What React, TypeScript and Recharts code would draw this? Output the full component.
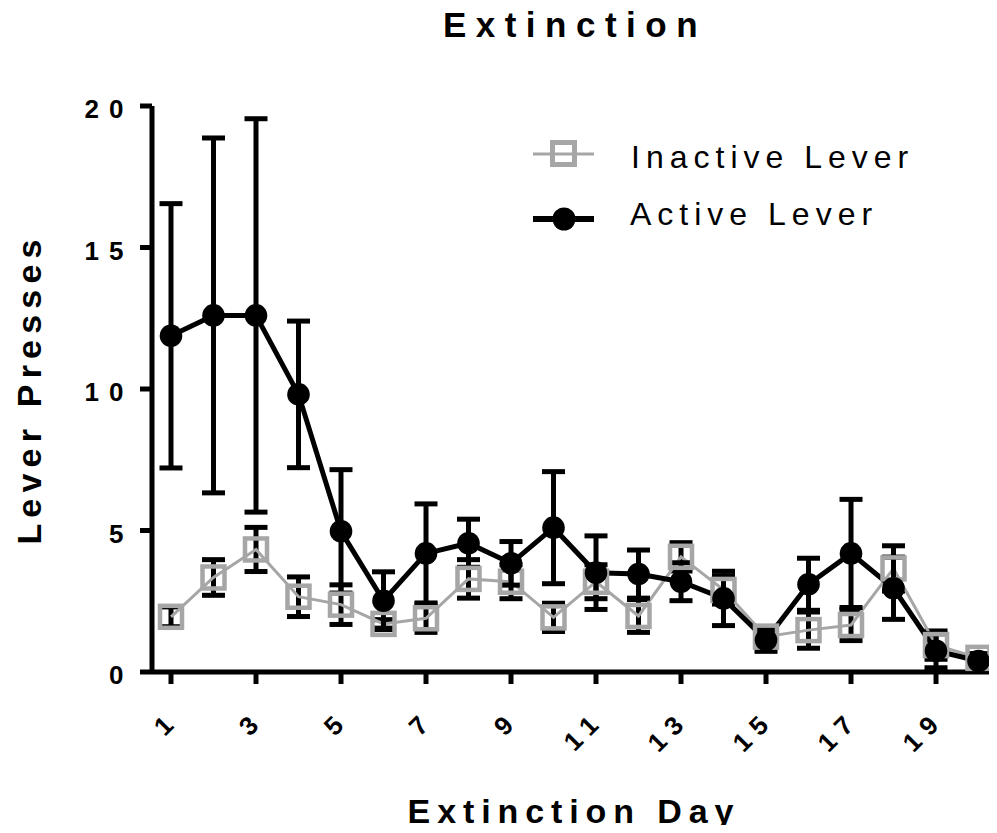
import React from 'react';
import { LineChart, Line, XAxis, YAxis, ErrorBar, Legend } from 'recharts';

// values
const days = [1, 2, 3, 4, 5, 6, 7, 8, 9, 10, 11, 12, 13, 14, 15, 16, 17, 18, 19, 20];
const activeMean = [11.88, 12.6, 12.6, 9.81, 4.97, 2.52, 4.19, 4.55, 3.84, 5.1, 3.51, 3.46, 3.19, 2.6, 1.13, 3.1, 4.19, 2.96, 0.75, 0.39];
const activeSem = [4.67, 6.27, 6.95, 2.59, 2.18, 1.02, 1.75, 0.85, 0.77, 1.98, 1.3, 0.85, 0.67, 0.96, 0.4, 0.92, 1.91, 1.1, 0.6, 0.15];
const inactiveMean = [1.95, 3.34, 4.33, 2.66, 2.38, 1.7, 1.9, 3.29, 3.19, 1.93, 3.19, 1.98, 4.07, 2.9, 1.25, 1.48, 1.66, 3.66, 0.95, 0.5];
const inactiveSem = [0.35, 0.63, 0.78, 0.7, 0.7, 0.15, 0.5, 0.68, 0.6, 0.5, 0.6, 0.58, 0.5, 0.5, 0.3, 0.64, 0.55, 0.8, 0.5, 0.15];
const xTicks = [1, 3, 5, 7, 9, 11, 13, 15, 17, 19];
const yTicks = [0, 5, 10, 15, 20];

const FONT = '"Liberation Sans", Arial, Helvetica, sans-serif';
const GREY = '#a6a6a6';

const data = days.map((d, i) => ({
    day: d,
    active: activeMean[i],
    activeErr: activeSem[i],
    inactive: inactiveMean[i],
    inactiveErr: inactiveSem[i],
}));

const SquareDot = (props: any) => {
    const { cx, cy, index } = props;
    if (cx == null || cy == null) return <g key={`sq-${index}`} />;
    return (
        <rect key={`sq-${index}`} x={cx - 11} y={cy - 11} width={22} height={22}
            fill="none" stroke={GREY} strokeWidth={4.5} />
    );
};

const CircleDot = (props: any) => {
    const { cx, cy, index } = props;
    if (cx == null || cy == null) return <g key={`c-${index}`} />;
    return <circle key={`c-${index}`} cx={cx} cy={cy} r={11.3} fill="#000" />;
};

const XTick = (props: any) => {
    const { x, payload } = props;
    const ax = x + 10;
    const ay = 713;
    return (
        <text x={ax} y={ay} textAnchor="end" transform={`rotate(-45, ${ax}, ${ay})`}
            fontFamily={FONT} fontWeight="bold" fontSize={26} letterSpacing={8.5} fill="#000">
            {payload.value}
        </text>
    );
};

const YTick = (props: any) => {
    const { y, payload } = props;
    return (
        <text x={125.5} y={y + 12} textAnchor="end"
            fontFamily={FONT} fontWeight="bold" fontSize={26} letterSpacing={10} fill="#000">
            {payload.value}
        </text>
    );
};

const renderLegend = () => (
    <svg width={400} height={110} style={{ display: 'block', overflow: 'visible' }}>
        <line x1={5} y1={16} x2={66} y2={16} stroke={GREY} strokeWidth={3} />
        <rect x={24.5} y={4.5} width={22} height={22} fill="none" stroke={GREY} strokeWidth={5} />
        <text x={103} y={30} fontFamily={FONT} fontSize={32} letterSpacing={6} fill="#000">Inactive Lever</text>
        <line x1={5} y1={81} x2={66} y2={81} stroke="#000" strokeWidth={6} />
        <circle cx={36} cy={81} r={11.5} fill="#000" />
        <text x={102} y={87} fontFamily={FONT} fontSize={32} letterSpacing={6} fill="#000">Active Lever</text>
    </svg>
);

export default function App() {
    return (
        <div style={{ position: 'relative', width: 989, height: 817 }}>
            <LineChart width={989} height={817} data={data}
                margin={{ top: 98, right: 0, bottom: 73, left: 0 }}>
                <XAxis
                    type="number"
                    dataKey="day"
                    domain={[0.553, 20.435]}
                    allowDataOverflow
                    ticks={xTicks}
                    interval={0}
                    height={80}
                    tickSize={12}
                    axisLine={{ stroke: '#000', strokeWidth: 5 }}
                    tickLine={{ stroke: '#000', strokeWidth: 5 }}
                    tick={<XTick />}
                />
                <YAxis
                    type="number"
                    domain={[0, 20]}
                    ticks={yTicks}
                    interval={0}
                    width={144}
                    tickSize={12}
                    axisLine={{ stroke: '#000', strokeWidth: 5 }}
                    tickLine={{ stroke: '#000', strokeWidth: 5 }}
                    tick={<YTick />}
                />
                <Legend
                    layout="horizontal"
                    verticalAlign="middle"
                    align="center"
                    content={renderLegend}
                    wrapperStyle={{ left: 520, top: 130, width: 400, height: 110 }}
                />
                <Line
                    type="linear"
                    dataKey="inactive"
                    stroke={GREY}
                    strokeWidth={3}
                    dot={SquareDot}
                    activeDot={false}
                    isAnimationActive={false}
                >
                    <ErrorBar dataKey="inactiveErr" direction="y" width={11.5} stroke="#000" strokeWidth={5} />
                </Line>
                <Line
                    type="linear"
                    dataKey="active"
                    stroke="#000"
                    strokeWidth={5}
                    dot={CircleDot}
                    activeDot={false}
                    isAnimationActive={false}
                >
                    <ErrorBar dataKey="activeErr" direction="y" width={11.5} stroke="#000" strokeWidth={5} />
                </Line>
            </LineChart>
            <svg width={989} height={817}
                style={{ position: 'absolute', left: 0, top: 0, overflow: 'visible', pointerEvents: 'none' }}>
                <text x={567} y={29} textAnchor="middle" fontFamily={FONT} fontWeight="bold"
                    fontSize={35} letterSpacing={9.5} fill="#000">Extinction</text>
                <text x={566} y={815} textAnchor="middle" fontFamily={FONT} fontWeight="bold"
                    fontSize={34} letterSpacing={6.9} fill="#000">Extinction Day</text>
                <text x={33} y={381} textAnchor="middle" transform="rotate(-90, 33, 381)"
                    fontFamily={FONT} fontWeight="bold" fontSize={34} letterSpacing={6.2} fill="#000">Lever Presses</text>
            </svg>
        </div>
    );
}
